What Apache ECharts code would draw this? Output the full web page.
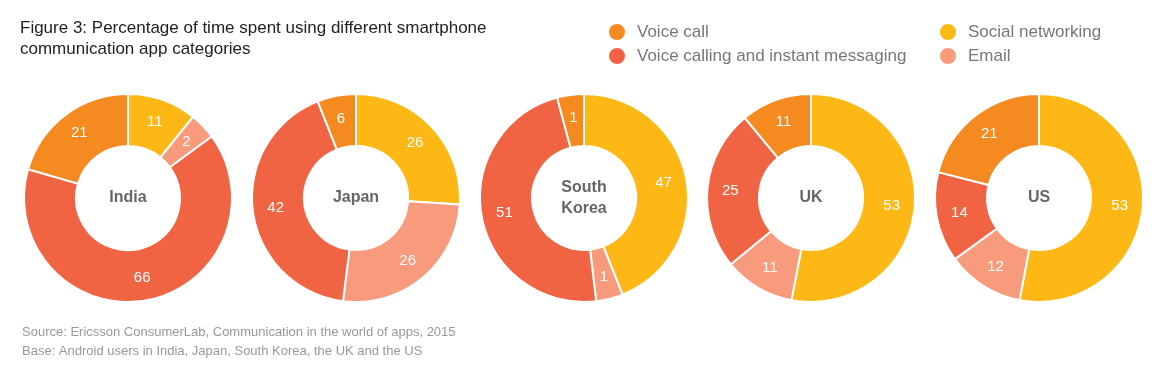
<!DOCTYPE html>
<html>
<head>
<meta charset="utf-8">
<script src="https://cdn.jsdelivr.net/npm/echarts@6/dist/echarts.min.js"></script>
<style>
  html, body { margin: 0; padding: 0; background: #fff; }
  #chart { width: 1167px; height: 377px; }
</style>
</head>
<body>
<div id="chart"></div>
<script>
// categories in clockwise order from 12 o'clock
var categories = ['Social networking', 'Email', 'Voice calling and instant messaging', 'Voice call'];
var countries = ['India', 'Japan', 'South\nKorea', 'UK', 'US'];
var indiaValues = [11, 2, 66, 21];
var japanValues = [26, 26, 42, 6];
var koreaValues = [47, 1, 51, 1];
var ukValues = [53, 11, 25, 11];
var usValues = [53, 12, 14, 21];
var colors = ['#FDB816', '#F79B7C', '#F06444', '#F58A20'];

var allValues = [indiaValues, japanValues, koreaValues, ukValues, usValues];
var centersX = [128, 356, 584, 811, 1039];
var centerY = 198;
var font = '"Liberation Sans", Arial, Helvetica, sans-serif';

var myChart = echarts.init(document.getElementById('chart'));

var series = [];
var graphics = [];
for (var i = 0; i < countries.length; i++) {
  var data = [];
  for (var j = 0; j < categories.length; j++) {
    data.push({ name: categories[j], value: allValues[i][j], itemStyle: { color: colors[j] } });
  }
  series.push({
    type: 'pie',
    name: countries[i],
    center: [centersX[i], centerY],
    radius: [52, 104],
    startAngle: 90,
    clockwise: true,
    minAngle: 15,
    avoidLabelOverlap: false,
    silent: true,
    itemStyle: { borderColor: '#fff', borderWidth: 2 },
    label: {
      show: true,
      position: 'inside',
      formatter: '{c}',
      color: '#fff',
      fontSize: 15,
      fontFamily: font
    },
    labelLine: { show: false },
    data: data
  });
  // country name in the hole of the donut
  graphics.push({
    type: 'text',
    x: centersX[i],
    y: centerY,
    style: {
      text: countries[i],
      fill: '#666',
      font: 'bold 16px ' + font,
      textAlign: 'center',
      textVerticalAlign: 'middle',
      lineHeight: 21
    }
  });
}

var legendText = { fontSize: 17, color: '#777', fontFamily: font, padding: [0, 0, 0, 6] };

var option = {
  animation: false,
  title: [{
    text: 'Figure 3: Percentage of time spent using different smartphone\ncommunication app categories',
    left: 15,
    top: 13,
    textStyle: { fontSize: 17, fontWeight: 'normal', color: '#222', fontFamily: font, lineHeight: 21 }
  }, {
    text: 'Source: Ericsson ConsumerLab, Communication in the world of apps, 2015\nBase: Android users in India, Japan, South Korea, the UK and the US',
    left: 17,
    top: 318,
    textStyle: { fontSize: 13, fontWeight: 'normal', color: '#999', fontFamily: font, lineHeight: 19 }
  }],
  legend: [{
    orient: 'vertical',
    left: 602,
    top: 17,
    itemGap: 4,
    icon: 'circle',
    itemWidth: 18,
    itemHeight: 18,
    selectedMode: false,
    textStyle: legendText,
    data: ['Voice call', 'Voice calling and instant messaging']
  }, {
    orient: 'vertical',
    left: 933,
    top: 17,
    itemGap: 4,
    icon: 'circle',
    itemWidth: 18,
    itemHeight: 18,
    selectedMode: false,
    textStyle: legendText,
    data: ['Social networking', 'Email']
  }],
  graphic: graphics,
  series: series
};
myChart.setOption(option);
</script>
</body>
</html>
